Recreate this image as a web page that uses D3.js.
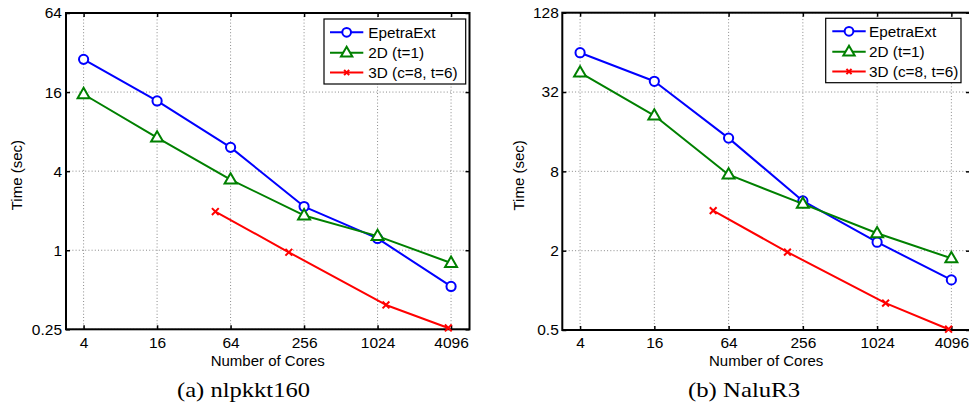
<!DOCTYPE html>
<html>
<head>
<meta charset="utf-8">
<script src="https://cdn.jsdelivr.net/npm/d3@7"></script>
<style>
  html, body { margin: 0; padding: 0; background: #fff; }
  svg { display: block; }
</style>
</head>
<body>
<svg id="chart" width="969" height="402"></svg>
<script>
// ---------------- data ----------------
const cores = [4, 16, 64, 256, 1024, 4096];
const cores3D = [48, 192, 1200, 3888];
const xTickValues = [4, 16, 64, 256, 1024, 4096];
const seriesNames = ["EpetraExt", "2D (t=1)", "3D (c=8, t=6)"];

const nlpEpetra = [28.4, 13.7, 6.07, 2.15, 1.23, 0.53];
const nlp2D = [15.4, 7.2, 3.45, 1.84, 1.28, 0.80];
const nlp3D = [1.97, 0.965, 0.383, 0.256];
const nlpYTicks = [0.25, 1, 4, 16, 64];

const naluEpetra = [63.6, 38.6, 14.3, 4.77, 2.32, 1.2];
const nalu2D = [44.9, 21.2, 7.55, 4.53, 2.71, 1.75];
const nalu3D = [4.03, 1.95, 0.80, 0.507];
const naluYTicks = [0.5, 2, 8, 32, 128];

const captions = ["(a) nlpkkt160", "(b) NaluR3"];
const xLabel = "Number of Cores";
const yLabel = "Time (sec)";

// ---------------- layout ----------------
const svg = d3.select("#chart");
const FONT = "'Liberation Sans', Arial, Helvetica, sans-serif";
const colors = ["#0000ff", "#008000", "#ff0000"];

const panels = [
  {
    x0: 66, x1: 469.5, y0: 13, y1: 329.3,
    yTicks: nlpYTicks, yDomain: [0.25, 64],
    series: [nlpEpetra, nlp2D, nlp3D],
    caption: captions[0], capX: 243.5, capW: 133, yLabX: 21.5, yTickPad: 4,
    legend: { x: 324, y: 19, w: 141.7, h: 65, rows: [32.3, 52.7, 72.6], lx0: 330, lx1: 363.3, tx: 368.3 }
  },
  {
    x0: 562.3, x1: 970, y0: 12.7, y1: 330,
    yTicks: naluYTicks, yDomain: [0.5, 128],
    series: [naluEpetra, nalu2D, nalu3D],
    caption: captions[1], capX: 744, capW: 112, yLabX: 524, yTickPad: 3.5,
    legend: { x: 825.7, y: 18.3, w: 135.3, h: 64.4, rows: [31.3, 51.8, 71.6], lx0: 832.3, lx1: 865.7, tx: 869 }
  }
];

function marker(g, kind, cx, cy, color, scale) {
  const s = scale || 1;
  if (kind === 0) {
    g.append("circle").attr("cx", cx).attr("cy", cy).attr("r", 4.6 * s)
      .attr("fill", "#fff").attr("stroke", color).attr("stroke-width", 2);
  } else if (kind === 1) {
    g.append("path").attr("d", d3.symbol(d3.symbolTriangle, 62 * s * s)())
      .attr("transform", `translate(${cx},${cy + 0.5})`)
      .attr("fill", "#fff").attr("stroke", color).attr("stroke-width", 2);
  } else {
    const r = 3.4 * s;
    g.append("path").attr("d", `M${cx - r},${cy - r}L${cx + r},${cy + r}M${cx - r},${cy + r}L${cx + r},${cy - r}`)
      .attr("stroke", color).attr("stroke-width", 2).attr("fill", "none");
  }
}

panels.forEach(p => {
  const x = d3.scaleLog().base(2).domain([2.87, 5800]).range([p.x0, p.x1]);
  const y = d3.scaleLog().base(2).domain(p.yDomain).range([p.y1, p.y0]);
  const g = svg.append("g");

  // grid
  const grid = g.append("g").attr("stroke", "#8a8a8a").attr("stroke-width", 1)
    .attr("stroke-dasharray", "1,2.2");
  xTickValues.forEach(v => {
    grid.append("line").attr("x1", x(v)).attr("x2", x(v)).attr("y1", p.y0).attr("y2", p.y1);
  });
  p.yTicks.forEach(v => {
    grid.append("line").attr("x1", p.x0).attr("x2", p.x1).attr("y1", y(v)).attr("y2", y(v));
  });

  // axes
  const styleAxis = sel => {
    sel.select(".domain").remove();
    sel.selectAll("line").attr("stroke", "#000").attr("stroke-width", 1.5);
    sel.selectAll("text").attr("font-family", FONT).attr("font-size", "15.5px").attr("fill", "#000");
    sel.attr("font-family", FONT).attr("font-size", 15.5);
  };
  g.append("g").attr("transform", `translate(0,${p.y1})`)
    .call(d3.axisBottom(x).tickValues(xTickValues).tickSize(-4).tickPadding(7.2).tickFormat(d3.format("d")))
    .call(styleAxis);
  g.append("g").attr("transform", `translate(0,${p.y0})`)
    .call(d3.axisTop(x).tickValues(xTickValues).tickSize(-4).tickFormat(""))
    .call(styleAxis);
  g.append("g").attr("transform", `translate(${p.x0},0)`)
    .call(d3.axisLeft(y).tickValues(p.yTicks).tickSize(-4).tickPadding(p.yTickPad).tickFormat(d => String(d)))
    .call(styleAxis);
  g.append("g").attr("transform", `translate(${p.x1},0)`)
    .call(d3.axisRight(y).tickValues(p.yTicks).tickSize(-4).tickFormat(""))
    .call(styleAxis);

  // frame
  g.append("rect").attr("x", p.x0).attr("y", p.y0).attr("width", p.x1 - p.x0).attr("height", p.y1 - p.y0)
    .attr("fill", "none").attr("stroke", "#000").attr("stroke-width", 2);

  // series
  const line = d3.line().x(d => x(d[0])).y(d => y(d[1]));
  p.series.forEach((vals, i) => {
    const xs = i === 2 ? cores3D : cores;
    const pts = vals.map((v, j) => [xs[j], v]);
    g.append("path").datum(pts).attr("d", line).attr("fill", "none")
      .attr("stroke", colors[i]).attr("stroke-width", 2).attr("stroke-linejoin", "round");
    pts.forEach(d => marker(g, i, x(d[0]), y(d[1]), colors[i]));
  });

  // legend
  const L = p.legend;
  const lg = g.append("g");
  lg.append("rect").attr("x", L.x).attr("y", L.y).attr("width", L.w).attr("height", L.h)
    .attr("fill", "#fff").attr("stroke", "#000").attr("stroke-width", 1.2);
  seriesNames.forEach((name, i) => {
    const ry = L.rows[i];
    lg.append("line").attr("x1", L.lx0).attr("x2", L.lx1).attr("y1", ry).attr("y2", ry)
      .attr("stroke", colors[i]).attr("stroke-width", 2);
    marker(lg, i, (L.lx0 + L.lx1) / 2, ry, colors[i], i === 2 ? 0.75 : 0.95);
    lg.append("text").attr("x", L.tx).attr("y", ry + 5.4).text(name)
      .attr("font-family", FONT).attr("font-size", "15.3px").attr("fill", "#000");
  });

  // axis labels
  g.append("text").attr("x", (p.x0 + p.x1) / 2).attr("y", 365.5).attr("text-anchor", "middle")
    .attr("font-family", FONT).attr("font-size", "15px").text(xLabel);
  g.append("text").attr("transform", `translate(${p.yLabX},${(p.y0 + p.y1) / 2 + 4}) rotate(-90)`)
    .attr("text-anchor", "middle").attr("font-family", FONT).attr("font-size", "15px").text(yLabel);

  // caption
  g.append("text").attr("x", p.capX).attr("y", 397).attr("text-anchor", "middle")
    .attr("font-family", "'Liberation Serif', 'DejaVu Serif', serif").attr("font-size", "22px")
    .attr("textLength", p.capW).attr("lengthAdjust", "spacingAndGlyphs")
    .text(p.caption);
});
</script>
</body>
</html>
